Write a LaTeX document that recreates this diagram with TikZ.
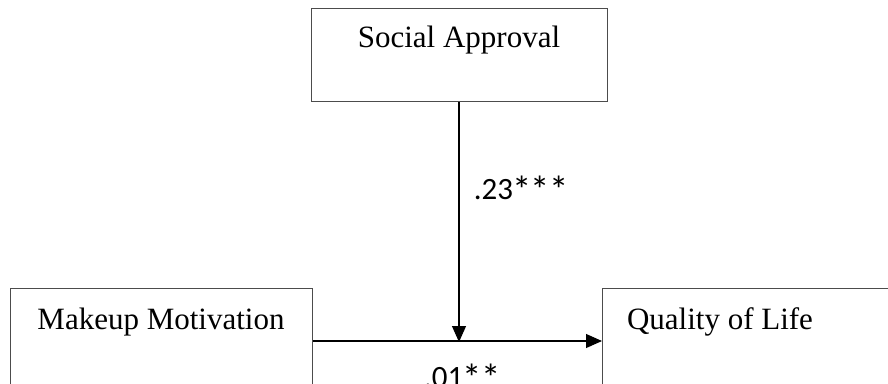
\documentclass[tikz,border=0pt]{standalone}
\usepackage{fontspec}
\setmainfont{Liberation Serif}
\newfontfamily\calib{Carlito}
\usetikzlibrary{arrows.meta}
\newcommand\bigast{\kern-0.5pt\raisebox{-4pt}{\scalebox{1.25}{*}}\kern-0.5pt}
\begin{document}
\begin{tikzpicture}[x=1pt,y=-1pt,
  box/.style={draw=black!70, line width=1.4pt, inner sep=0pt, anchor=north west},
  boxtext/.style={font=\fontsize{31}{36}\selectfont, inner sep=0pt},
  coef/.style={font=\calib\fontsize{31}{36}\selectfont, inner sep=0pt},
  conn/.style={draw=black, line width=1.1pt, -{Triangle[length=16pt,width=14pt]}}]
\useasboundingbox (0,0) rectangle (888,383);
\clip (0,0) rectangle (888,383);
\node[box, minimum width=296pt, minimum height=93pt] (sa) at (311,8) {};
\node[box, minimum width=302pt, minimum height=120pt] (mm) at (10,288) {};
\node[box, minimum width=320pt, minimum height=120pt] (ql) at (602,288) {};
\node[boxtext] (saT) at (459,40) {Social Approval};
\node[boxtext] (mmT) at (161,322) {Makeup Motivation};
\node[boxtext] (qlT) at (720,322) {Quality of Life};
\coordinate (mid) at (459,341);
\draw[conn] (sa.south -| mid) -- ([yshift=-1pt]mid);
\draw[conn] (mm.east |- mid) -- (ql.west |- mid);
\node[coef] (c1) at (521,190) {.23\bigast\bigast\bigast};
\node[coef] (c2) at (462,378) {.01\bigast\bigast};
\end{tikzpicture}
\end{document}
